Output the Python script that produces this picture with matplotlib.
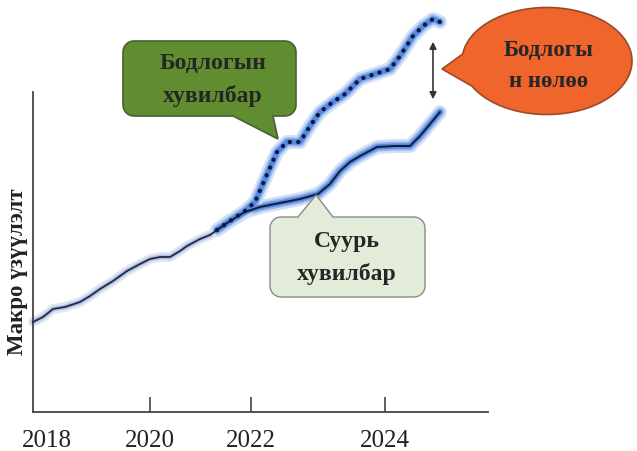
import numpy as np
import matplotlib
matplotlib.use("Agg")
import matplotlib.pyplot as plt
from matplotlib.path import Path
from matplotlib.patches import PathPatch

# ---- data (arbitrary time index / indicator units) ----
hist_t = [0, 10, 20, 32, 47, 57, 67, 80, 94, 107, 117, 127, 137, 147, 154, 167, 177, 184]
hist_v = [90, 95, 103, 105, 110, 116, 123, 131, 141, 148, 153, 155, 155, 161, 166, 173, 177, 182]

base_t = [184, 197, 212, 227, 247, 267, 285, 297, 307, 317, 327, 344, 362, 377, 387, 397, 407]
base_v = [182, 191, 200, 205, 209, 213, 218, 228, 241, 250, 256, 265, 266, 266, 276, 288, 300]

pol_t = [184, 197, 212, 222, 232, 244, 254, 267, 277, 287, 300, 312, 327, 342, 357, 367, 380, 390, 400, 407]
pol_v = [182, 191, 201, 210, 233, 260, 270, 270, 286, 300, 310, 318, 333, 338, 343, 356, 376, 386, 393, 390]

tick_pos = [14, 117, 218, 352]
tick_labels = ["2018", "2020", "2022", "2024"]

ylabel = "Макро үзүүлэлт"
policy_label = "Бодлогын\nхувилбар"
base_label = "Суурь\nхувилбар"
impact_label = "Бодлогы\nн нөлөө"

SERIF = ["Liberation Serif", "DejaVu Serif"]

fig = plt.figure(figsize=(6.37, 4.52), dpi=100)
ax = fig.add_axes([33 / 637, 39 / 452, 604 / 637, 413 / 452])
ax.set_xlim(0, 604)
ax.set_ylim(0, 413)
ax.patch.set_alpha(0)

for s in ["top", "right"]:
    ax.spines[s].set_visible(False)
ax.spines["left"].set_bounds(0, 320)
ax.spines["bottom"].set_bounds(0, 455)
for s in ["left", "bottom"]:
    ax.spines[s].set_color("#444444")
    ax.spines[s].set_linewidth(1.3)

ax.set_yticks([])
ax.set_xticks(tick_pos)
ax.set_xticklabels(tick_labels, family=SERIF, fontsize=18, color="#222222")
ax.tick_params(axis="x", direction="in", length=11, width=1.2, color="#444444", pad=12)
ax.xaxis.get_major_ticks()[0].tick1line.set_visible(False)

ax.text(-15, 141, ylabel, family=SERIF, fontweight="bold", fontsize=16.5, color="#222222",
        rotation=90, ha="center", va="center", clip_on=False)

# ---- lines with glow ----
ax.plot(hist_t, hist_v, color="#dfe5f2", lw=7, solid_capstyle="round", zorder=2, clip_on=False)
ax.plot(hist_t, hist_v, color="#b4c2e2", lw=3.5, solid_capstyle="round", zorder=2, clip_on=False)
ax.plot(hist_t, hist_v, color="#1f2a44", lw=1.3, zorder=4, clip_on=False)

for t, v in [(base_t, base_v), (pol_t, pol_v)]:
    ax.plot(t, v, color="#d2e0f6", lw=10, solid_capstyle="round", solid_joinstyle="round", zorder=2, clip_on=False)
    ax.plot(t, v, color="#94b4ee", lw=6.5, solid_capstyle="round", solid_joinstyle="round", zorder=2, clip_on=False)
    ax.plot(t, v, color="#5588e4", lw=3.8, solid_capstyle="round", solid_joinstyle="round", zorder=3, clip_on=False)

ax.plot(base_t, base_v, color="#141c30", lw=1.4, zorder=4, clip_on=False)
ax.plot(pol_t, pol_v, color="#0f1a3a", lw=3.2, linestyle=(0, (0.01, 1.9)),
        dash_capstyle="round", zorder=5, clip_on=False)


# ---- callouts ----
def round_box_path(x0, y0, x1, y1, r, ptr=None, side="bottom"):
    pts = []
    def arc(cx, cy, a0, a1):
        for a in np.linspace(a0, a1, 10):
            pts.append((cx + r * np.cos(a), cy + r * np.sin(a)))
    arc(x0 + r, y0 + r, np.pi, 1.5 * np.pi)
    if ptr is not None and side == "bottom":
        bx0, bx1, tx, ty = ptr
        pts += [(bx0, y0), (tx, ty), (bx1, y0)]
    arc(x1 - r, y0 + r, 1.5 * np.pi, 2 * np.pi)
    arc(x1 - r, y1 - r, 0, 0.5 * np.pi)
    if ptr is not None and side == "top":
        bx0, bx1, tx, ty = ptr
        pts += [(bx1, y1), (tx, ty), (bx0, y1)]
    arc(x0 + r, y1 - r, 0.5 * np.pi, np.pi)
    pts.append(pts[0])
    codes = [Path.MOVETO] + [Path.LINETO] * (len(pts) - 2) + [Path.CLOSEPOLY]
    return Path(pts, codes)


green = PathPatch(round_box_path(90, 296, 263, 371, 11, ptr=(200, 240, 245, 273), side="bottom"),
                  facecolor="#5f8d30", edgecolor="#4a5f3a", lw=1.2, zorder=6, clip_on=False)
ax.add_patch(green)
ax.text(180, 333, policy_label, family=SERIF, fontweight="bold", fontsize=17,
        color="#262626", ha="center", va="center", linespacing=1.65, zorder=7)

light = PathPatch(round_box_path(237, 115, 392, 195, 11, ptr=(265, 300, 283, 217), side="top"),
                  facecolor="#e3ecd9", edgecolor="#8a8a8a", lw=1.0, zorder=6, clip_on=False)
ax.add_patch(light)
ax.text(314, 155, base_label, family=SERIF, fontweight="bold", fontsize=17,
        color="#262626", ha="center", va="center", linespacing=1.65, zorder=7)

# orange speech ellipse
cx, cy, ea, eb = 514, 351, 85, 53.5
ts = np.linspace(3.63, 3.01 + 2 * np.pi, 120)
epts = [(cx + ea * np.cos(t), cy + eb * np.sin(t)) for t in ts]
epts.append((409, 343))
epts.append(epts[0])
ecodes = [Path.MOVETO] + [Path.LINETO] * (len(epts) - 2) + [Path.CLOSEPOLY]
orange = PathPatch(Path(epts, ecodes), facecolor="#f0652b", edgecolor="#9a4a2a", lw=1.2,
                   zorder=6, clip_on=False)
ax.add_patch(orange)
ax.text(516, 347, impact_label, family=SERIF, fontweight="bold", fontsize=16.5,
        color="#262626", ha="center", va="center", linespacing=1.65, zorder=7)

# double arrow
ax.annotate("", xy=(400, 373), xytext=(400, 310),
            arrowprops=dict(arrowstyle="<|-|>", color="#333333", lw=1.2, mutation_scale=10),
            annotation_clip=False, zorder=6)

fig.savefig("out.png", dpi=100)
